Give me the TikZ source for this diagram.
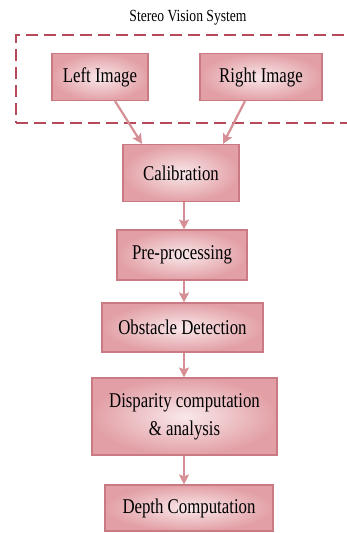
\documentclass[tikz,border=0pt]{standalone}
\usepackage{fontspec}
\setmainfont[FakeStretch=0.8]{Liberation Serif}
\usetikzlibrary{arrows.meta,calc}
\definecolor{boxout}{HTML}{E2A0A6}
\definecolor{boxin}{HTML}{F9E8EA}
\definecolor{boxline}{HTML}{C97A82}
\definecolor{dashcol}{HTML}{B44A5A}
\definecolor{arrcol}{HTML}{D68F95}
\begin{document}
\begin{tikzpicture}[x=1pt,y=-1pt,
  stagebox/.style={draw=boxline, line width=1.1pt, shading=radial, inner color=boxin, outer color=boxout,
    inner sep=0pt, align=center, font=\fontsize{21}{28}\selectfont},
  flow/.style={draw=arrcol, line width=2.2pt, -{Stealth[width=10pt,length=10pt,inset=2pt]}}]
\useasboundingbox (0,0) rectangle (347,533);
\clip (0,0) rectangle (347,533);
\node[font=\fontsize{17}{20}\selectfont] (title) at (188,18) {Stereo Vision System};
\node[draw=dashcol, line width=2.4pt, dash pattern=on 12pt off 6pt, minimum width=345pt, minimum height=88pt, inner sep=0pt] (sys) at (188.5,79) {};
\node[stagebox, minimum width=96pt, minimum height=47pt] (left) at (100,77) {Left Image};
\node[stagebox, minimum width=122pt, minimum height=47pt] (right) at (261,77) {Right Image};
\node[stagebox, minimum width=116pt, minimum height=57pt] (cal) at (181,173) {Calibration};
\node[stagebox, minimum width=130pt, minimum height=50pt] (pre) at (182,255) {Pre-processing};
\node[stagebox, minimum width=161pt, minimum height=49pt] (obs) at (182.5,327.5) {Obstacle Detection};
\node[stagebox, minimum width=185pt, minimum height=77pt] (disp) at (184.5,416.5) {Disparity computation\\\& analysis};
\node[stagebox, minimum width=168pt, minimum height=46pt] (depth) at (189,508) {Depth Computation};
\draw[flow] ([xshift=15pt]left.south) -- ([xshift=-39pt]cal.north);
\draw[flow] ([xshift=-16pt]right.south) -- ([xshift=42pt]cal.north);
\draw[flow] ([xshift=3pt]cal.south) -- ([xshift=3pt]cal.south |- pre.north);
\draw[flow] ([xshift=3pt]cal.south |- pre.south) -- ([xshift=3pt]cal.south |- obs.north);
\draw[flow] ([xshift=3pt]cal.south |- obs.south) -- ([xshift=3pt]cal.south |- disp.north);
\draw[flow] ([xshift=3pt]cal.south |- disp.south) -- ([xshift=3pt]cal.south |- depth.north);
\end{tikzpicture}
\end{document}
